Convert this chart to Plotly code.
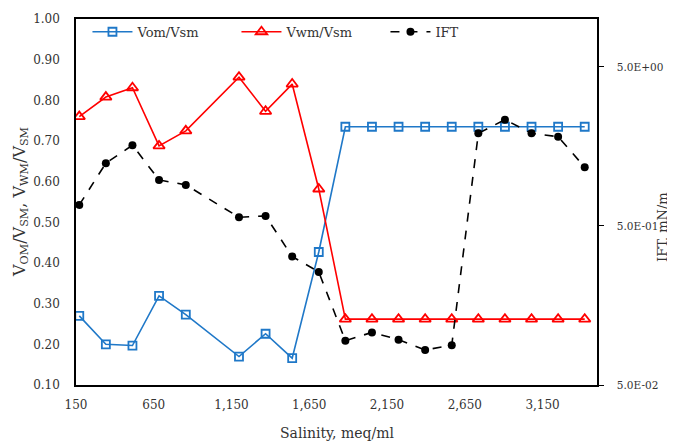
import plotly.graph_objects as go

salinity = [171, 342, 513, 684, 856, 1198, 1369, 1540, 1711, 1882, 2053, 2224,
            2395, 2566, 2737, 2908, 3079, 3250, 3421]
vom_vsm = [0.270, 0.200, 0.197, 0.319, 0.273, 0.170, 0.226, 0.166, 0.427,
           0.735, 0.735, 0.735, 0.735, 0.735, 0.735, 0.735, 0.735, 0.735, 0.735]
vwm_vsm = [0.760, 0.808, 0.831, 0.688, 0.725, 0.857, 0.773, 0.840, 0.582,
           0.262, 0.262, 0.262, 0.262, 0.262, 0.262, 0.262, 0.262, 0.262, 0.262]
ift = [0.678, 1.24, 1.61, 0.973, 0.906, 0.567, 0.578, 0.321, 0.257,
       0.095, 0.107, 0.0964, 0.083, 0.0889, 1.91, 2.33, 1.91, 1.82, 1.17]

x_ticks = [150, 650, 1150, 1650, 2150, 2650, 3150]
x_ticklabels = ["150", "650", "1,150", "1,650", "2,150", "2,650", "3,150"]
y_ticks = [0.10, 0.20, 0.30, 0.40, 0.50, 0.60, 0.70, 0.80, 0.90, 1.00]
y2_ticks = [0.05, 0.5, 5]
y2_ticklabels = ["5.0E-02", "5.0E-01", "5.0E+00"]

FONT = "DejaVu Serif"
TXT = "#333333"
BLUE = "#1F78C8"
RED = "#FF0000"

fig = go.Figure()
fig.add_trace(go.Scatter(
    x=salinity, y=vom_vsm, name="Vom/Vsm", mode="lines+markers",
    line=dict(color=BLUE, width=1.6),
    marker=dict(symbol="square-open", size=8, color=BLUE, line=dict(width=1.8, color=BLUE)),
))
fig.add_trace(go.Scatter(
    x=salinity, y=vwm_vsm, name="Vwm/Vsm", mode="lines+markers",
    line=dict(color=RED, width=1.6),
    marker=dict(symbol="triangle-up-open", size=10, color=RED, line=dict(width=1.8, color=RED)),
))
fig.add_trace(go.Scatter(
    x=salinity, y=ift, name="IFT", mode="lines+markers", yaxis="y2",
    line=dict(color="black", width=1.6, dash="dash"),
    marker=dict(symbol="circle", size=8, color="black"),
))

# page has an 8px body margin: figure is sized to fit inside the window
fig.update_layout(
    width=667, height=433,
    margin=dict(l=68, r=78, t=11, b=56, autoexpand=False),
    paper_bgcolor="white", plot_bgcolor="white",
    font=dict(family=FONT, size=12, color=TXT),
    showlegend=True,
    legend=dict(orientation="h", x=0.022, y=1.006, xanchor="left", yanchor="top",
                bgcolor="rgba(0,0,0,0)", entrywidth=94, entrywidthmode="pixels",
                itemwidth=40, font=dict(family=FONT, size=13, color=TXT)),
    xaxis=dict(range=[150, 3500], tickvals=x_ticks, ticktext=x_ticklabels,
               showgrid=False, zeroline=False, showline=True, linecolor="black",
               linewidth=1.5, mirror=True, ticks="", ticklabelstandoff=8,
               tickfont=dict(family=FONT, size=12, color=TXT)),
    yaxis=dict(range=[0.10, 1.00], tickvals=y_ticks, tickformat=".2f",
               showgrid=False, zeroline=False, showline=True, linecolor="black",
               linewidth=1.5, mirror=True, ticks="", ticklabelstandoff=12,
               tickfont=dict(family=FONT, size=12, color=TXT)),
    yaxis2=dict(overlaying="y", side="right", type="log",
                range=[-1.30103, 1.0], tickvals=y2_ticks, ticktext=y2_ticklabels,
                showgrid=False, zeroline=False, showline=True, linecolor="black",
                linewidth=1.5, ticks="outside", ticklen=5, tickcolor="black",
                ticklabelstandoff=11, tickfont=dict(family=FONT, size=10.5, color=TXT)),
    annotations=[
        dict(text="Salinity, meq/ml", xref="paper", yref="paper", x=0.5, y=-0.131,
             xanchor="center", yanchor="middle", showarrow=False,
             font=dict(family=FONT, size=14, color=TXT)),
        dict(text="V<sub>OM</sub>/V<sub>SM</sub>, V<sub>WM</sub>/V<sub>SM</sub>",
             xref="paper", yref="paper", x=-0.1075, y=0.5, textangle=-90,
             xanchor="center", yanchor="middle", showarrow=False,
             font=dict(family=FONT, size=16, color=TXT)),
        dict(text="IFT, mN/m", xref="paper", yref="paper", x=1.1267, y=0.432,
             textangle=-90, xanchor="center", yanchor="middle", showarrow=False,
             font=dict(family=FONT, size=13, color=TXT)),
    ],
)

fig.write_html("out.html")
